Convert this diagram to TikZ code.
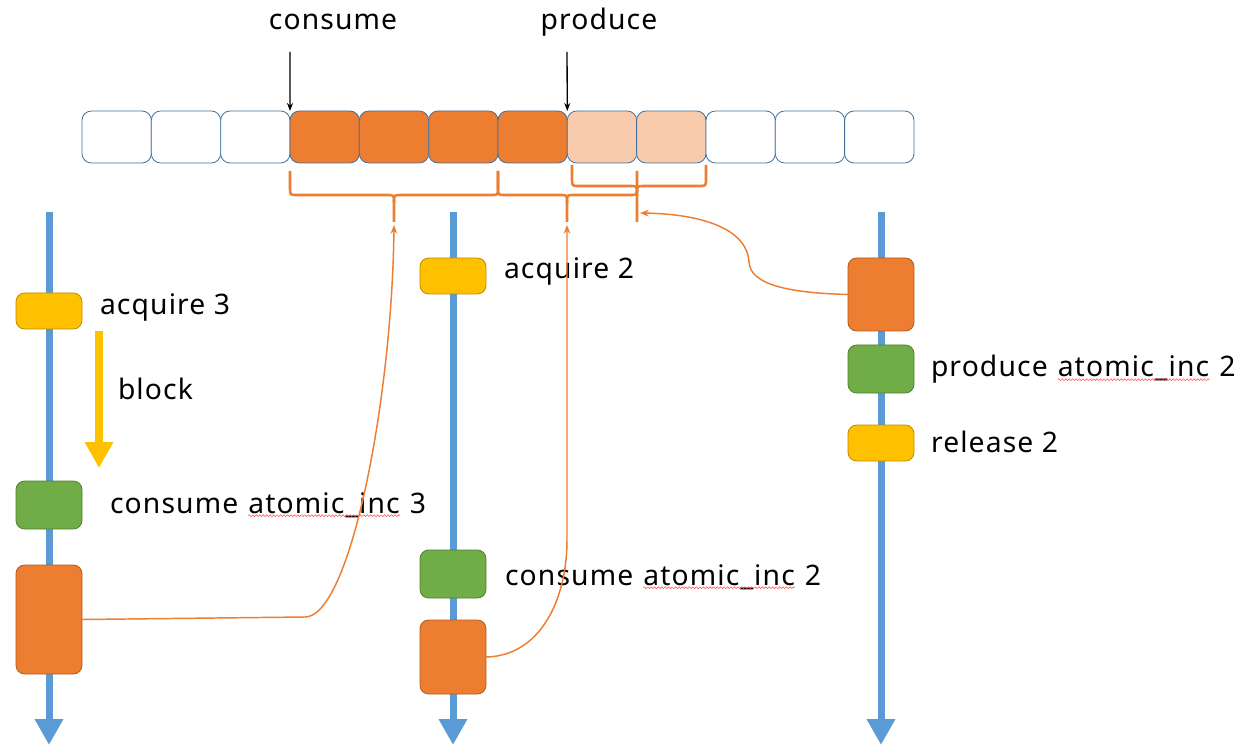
\documentclass[tikz,border=0pt]{standalone}
\usepackage{fontspec}
\setmainfont{Noto Sans}[LetterSpace=4]
\usetikzlibrary{decorations.pathmorphing,arrows.meta}
\definecolor{orng}{HTML}{ED7D31}
\definecolor{orngb}{HTML}{AE5A21}
\definecolor{lorng}{HTML}{F8CBAD}
\definecolor{grn}{HTML}{70AD47}
\definecolor{grnb}{HTML}{507E32}
\definecolor{ylw}{HTML}{FFC000}
\definecolor{ylwb}{HTML}{BC8C00}
\definecolor{blu}{HTML}{5B9BD5}
\definecolor{cellb}{HTML}{41719C}
\tikzset{
  cell/.style={draw=cellb, line width=0.6pt, rounded corners=7pt, minimum width=52pt, minimum height=39pt, inner sep=0, outer sep=0},
  evbox/.style={draw=#1, line width=0.6pt, rounded corners=6.5pt, minimum width=49.5pt, inner sep=0, outer sep=0},
  lbl/.style={font=\fontsize{21.2pt}{25pt}\selectfont, inner sep=0, outer sep=0, anchor=base west},
  tline/.style={blu, line width=5.25pt, -{Triangle[width=20.25pt,length=19.5pt]}},
  ptr/.style={black, line width=1pt, -{Stealth[length=6pt,width=4.5pt]}},
  brace/.style={orng, line width=1.9pt, line join=round},
  link/.style={orng, line width=1.1pt, -{Stealth[length=6.5pt,width=5pt]}},
  squig/.style={red!75, line width=0.35pt, decorate, decoration={snake, amplitude=0.7pt, segment length=2.6pt}}
}
\begin{document}
\begin{tikzpicture}[x=0.75pt,y=-0.75pt]
\useasboundingbox (0,0) rectangle (1256,755);

% buffer cells
\foreach \i/\c in {1/white,2/white,3/white,4/orng,5/orng,6/orng,7/orng,8/lorng,9/lorng,10/white,11/white,12/white}{
  \node[cell, fill=\c] (c\i) at ({82+69.33*(\i-0.5)},137) {};
}

% pointers
\node[lbl, anchor=base] (tcons) at (333,30) {consume};
\node[lbl, anchor=base] (tprod) at (599,30) {produce};
\coordinate (pc) at (290,52);
\coordinate (pp) at (567,52);
\draw[ptr] (pc) -- (c4.north west);
\draw[ptr] (pp) -- (c8.north west);

% braces
\draw[brace] (290,171) -- (290,188) .. controls (290,195) .. (297,195) -- (387,195)
  .. controls (394,195) .. (394,202) -- (394,222);
\draw[brace] (394,202) .. controls (394,195) .. (401,195) -- (491,195)
  .. controls (498,195) .. (498,188) -- (498,171);
\draw[brace] (498,171) -- (498,188) .. controls (498,195) .. (505,195) -- (560,195)
  .. controls (567,195) .. (567,202) -- (567,222);
\draw[brace] (567,202) .. controls (567,195) .. (574,195) -- (630,195)
  .. controls (637,195) .. (637,188) -- (637,171);
\draw[brace] (572,165) -- (572,179) .. controls (572,186) .. (579,186) -- (630,186)
  .. controls (637,186) .. (637,193) -- (637,222);
\draw[brace] (637,193) .. controls (637,186) .. (644,186) -- (699,186)
  .. controls (706,186) .. (706,179) -- (706,165);
\coordinate (bA) at (394,225);
\coordinate (bB) at (567,225);
\coordinate (bC) at (640,213);

% timelines
\coordinate (t1s) at (49,212); \coordinate (t1e) at (49,745);
\coordinate (t2s) at (453,212); \coordinate (t2e) at (453,745);
\coordinate (t3s) at (881,212); \coordinate (t3e) at (881,745);
\draw[tline] (t1s) -- (t1e);
\draw[tline] (t2s) -- (t2e);
\draw[tline] (t3s) -- (t3e);

% thread 1
\node[evbox=ylwb, fill=ylw, minimum height=27pt] (y1) at (49,311) {};
\node[lbl] (ta3) at (100,315) {acquire 3};
\coordinate (bk1) at (99,331); \coordinate (bk2) at (99,468);
\draw[ylw, line width=6pt, -{Triangle[width=20.25pt,length=19.5pt]}] (bk1) -- (bk2);
\node[lbl] (tblk) at (118,399) {block};
\node[evbox=grnb, fill=grn, minimum height=36pt] (g1) at (49,505) {};
\node[lbl] (w11) at (110,513) {consume};
\node[lbl] (w12) at ([xshift=7.5pt]w11.base east) {atomic\_inc};
\node[lbl] (w13) at ([xshift=7.5pt]w12.base east) {3};
\draw[squig] ([yshift=-2pt]w12.base west) -- ([yshift=-2pt]w12.base east);
\node[evbox=orngb, fill=orng, minimum height=81.75pt] (o1) at (49,619.5) {};

% thread 2
\node[evbox=ylwb, fill=ylw, minimum height=27pt] (y2) at (453,276) {};
\node[lbl] (ta2) at (504,279) {acquire 2};
\node[evbox=grnb, fill=grn, minimum height=36pt] (g2) at (453,574) {};
\node[lbl] (w21) at (505,585) {consume};
\node[lbl] (w22) at ([xshift=7.5pt]w21.base east) {atomic\_inc};
\node[lbl] (w23) at ([xshift=7.5pt]w22.base east) {2};
\draw[squig] ([yshift=-2pt]w22.base west) -- ([yshift=-2pt]w22.base east);
\node[evbox=orngb, fill=orng, minimum height=55.5pt] (o2) at (453,657) {};

% thread 3
\node[evbox=orngb, fill=orng, minimum height=54.75pt] (o3) at (881,294.5) {};
\node[evbox=grnb, fill=grn, minimum height=36pt] (g3) at (881,369) {};
\node[lbl] (w31) at (931,377) {produce};
\node[lbl] (w32) at ([xshift=7.5pt]w31.base east) {atomic\_inc};
\node[lbl] (w33) at ([xshift=7.5pt]w32.base east) {2};
\draw[squig] ([yshift=-2pt]w32.base west) -- ([yshift=-2pt]w32.base east);
\node[evbox=ylwb, fill=ylw, minimum height=27pt] (y3) at (881,443) {};
\node[lbl] (tr2) at (931,452) {release 2};

% links
\draw[link] (o1.east) -- (305,617) .. controls (350,617) and (392,400) .. (bA);
\draw[link] (o2.east) .. controls (540,656) and (567,600) .. (567,540) -- (bB);
\draw[link] (o3.west) .. controls (790,293) and (750,285) .. (749,262)
  .. controls (747,228) and (700,214) .. (bC);
\end{tikzpicture}
\end{document}
